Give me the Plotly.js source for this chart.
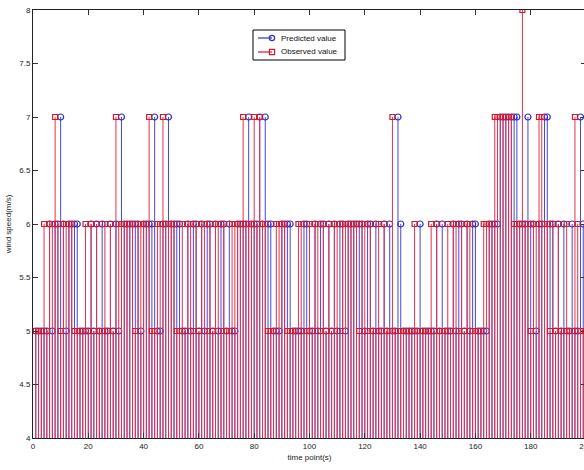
<!DOCTYPE html>
<html>
<head>
<meta charset="utf-8">
<script src="https://cdn.plot.ly/plotly-3.0.1.min.js"></script>
<style>
html,body{margin:0;padding:0;overflow:hidden;background:#fff;}
#chart{width:590px;height:470px;}
</style>
</head>
<body>
<div id="chart"></div>
<script>
// Observed wind speed (m/s) at time points 1..200
const observed = [
5,5,5,6,5,6,6,7,6,5, 6,6,6,6,5,5,5,5,6,5,
6,5,6,5,5,6,5,6,5,7, 6,6,6,6,6,6,5,6,6,6,
6,7,5,5,6,6,7,6,6,6, 6,5,5,6,5,6,6,5,6,5,
6,6,5,6,5,6,6,5,6,5, 5,6,6,6,6,7,6,6,6,7,
6,7,6,6,5,5,5,6,6,6, 6,5,5,5,5,6,6,5,5,6,
5,6,6,5,6,5,6,5,6,6, 5,6,6,6,6,6,6,5,6,6,
5,6,5,5,6,5,6,5,5,7, 5,5,5,5,5,5,5,6,5,5,
5,5,5,6,5,6,5,5,5,6, 5,6,6,5,6,5,6,6,5,5,
5,5,6,6,6,6,7,7,7,7, 7,7,7,6,6,6,8,6,6,5,
6,6,7,7,6,6,5,6,5,6, 5,5,6,5,5,7,6,5,5,5
];
// Predicted wind speed (m/s) at time points 1..200
const predicted = [
5,5,5,5,5,6,5,6,6,7, 6,5,6,6,6,6,5,5,5,5,
6,5,6,5,6,5,5,6,5,6, 5,7,6,6,6,6,6,6,5,6,
6,6,6,7,5,5,6,6,7,6, 6,6,6,5,5,6,5,6,6,5,
6,5,6,6,5,6,5,6,6,5, 6,5,5,6,6,6,6,7,6,6,
6,7,6,7,6,6,5,5,5,6, 6,6,6,5,5,5,5,6,6,5,
5,6,5,6,6,5,6,5,6,5, 6,6,5,6,6,6,6,6,6,5,
6,6,5,6,5,5,6,5,6,5, 5,7,6,5,5,5,5,5,5,6,
5,5,5,5,5,6,5,6,5,5, 5,6,5,6,6,5,6,5,6,6,
5,5,5,5,6,6,6,6,7,7, 7,7,7,7,7,6,6,6,7,6,
6,5,6,6,7,7,6,6,5,6, 5,6,5,5,6,5,5,7,6,5
];
const xTickVals = [0,20,40,60,80,100,120,140,160,180,200];
const yTickVals = [4,4.5,5,5.5,6,6.5,7,7.5,8];
const yTickText = ['4','4.5','5','5.5','6','6.5','7','7.5','8'];
const seriesNames = ['Predicted value','Observed value'];

const BASE = 4;
const RED = 'rgb(226,50,72)';
const BLUE = 'rgb(70,70,218)';
const RED_M = 'rgb(215,25,45)';
const BLUE_M = 'rgb(45,45,205)';

function stemXY(vals){
  const xs = [], ys = [];
  vals.forEach((v,i)=>{ xs.push(i+1,i+1,null); ys.push(BASE,v,null); });
  return {xs, ys};
}
const timePts = predicted.map((_,i)=>i+1);
const sp = stemXY(predicted), so = stemXY(observed);

const traces = [
  {x:sp.xs, y:sp.ys, type:'scatter', mode:'lines', hoverinfo:'skip',
   line:{color:BLUE,width:1}, connectgaps:false},
  {x:timePts, y:predicted, type:'scatter', mode:'markers', name:seriesNames[0],
   marker:{symbol:'circle-open',size:6,color:BLUE_M,line:{width:1.2}}},
  {x:so.xs, y:so.ys, type:'scatter', mode:'lines', hoverinfo:'skip',
   line:{color:RED,width:1}, connectgaps:false},
  {x:timePts, y:observed, type:'scatter', mode:'markers', name:seriesNames[1],
   marker:{symbol:'square-open',size:5,color:RED_M,line:{width:1.2}}}
];

// custom MATLAB-style legend (paper coordinates from pixel positions)
const PL = 33, PW = 553, PT = 10, PH = 428;
const px = v => (v - PL) / PW;
const py = v => (PT + PH - v) / PH;
const legBox = {x0:253, x1:345, y0:30, y1:60};
const legRows = [{y:38, color:BLUE_M, sym:'circle'}, {y:52, color:RED_M, sym:'square'}];
const shapes = [
  {type:'rect', xref:'paper', yref:'paper', x0:px(legBox.x0), x1:px(legBox.x1),
   y0:py(legBox.y1), y1:py(legBox.y0), line:{color:'#000', width:1}, fillcolor:'#fff', layer:'above'}
];
const annotations = [];
legRows.forEach((r,i)=>{
  shapes.push({type:'line', xref:'paper', yref:'paper', x0:px(258), x1:px(272), y0:py(r.y), y1:py(r.y),
    line:{color:r.color, width:1.2}, layer:'above'});
  const half = 2.6;
  shapes.push({type: r.sym==='circle' ? 'circle' : 'rect', xref:'paper', yref:'paper',
    x0:px(272-half), x1:px(272+half), y0:py(r.y+half), y1:py(r.y-half),
    line:{color:r.color, width:1.2}, fillcolor:'rgba(0,0,0,0)', layer:'above'});
  annotations.push({xref:'paper', yref:'paper', x:px(279), y:py(r.y), xanchor:'left', yanchor:'middle',
    text:seriesNames[i], showarrow:false,
    font:{family:'Liberation Sans Narrow, Liberation Sans, Arial, sans-serif', size:8, color:'#111'}});
});

const tickFont = {family:'Liberation Sans Narrow, Liberation Sans, Arial, sans-serif', size:8, color:'#222'};
const layout = {
  width:590, height:470,
  margin:{l:33, r:4, t:10, b:32},
  paper_bgcolor:'#fff', plot_bgcolor:'#fff',
  showlegend:false,
  shapes:shapes, annotations:annotations,
  xaxis:{range:[0,200], tickvals:xTickVals, ticktext:xTickVals.map(String),
    ticks:'inside', ticklen:5, tickcolor:'#333', showline:true, linecolor:'#222', linewidth:1,
    mirror:'ticks', showgrid:false, zeroline:false, tickfont:tickFont, ticklabeloverflow:'allow',
    title:{text:'time point(s)', font:tickFont, standoff:4}},
  yaxis:{range:[4,8], tickvals:yTickVals, ticktext:yTickText,
    ticks:'inside', ticklen:5, tickcolor:'#333', showline:true, linecolor:'#222', linewidth:1,
    mirror:'ticks', showgrid:false, zeroline:false, tickfont:tickFont,
    title:{text:'wind speed(m/s)', font:tickFont, standoff:6}}
};
Plotly.newPlot('chart', traces, layout, {displayModeBar:false, staticPlot:true});
</script>
</body>
</html>
